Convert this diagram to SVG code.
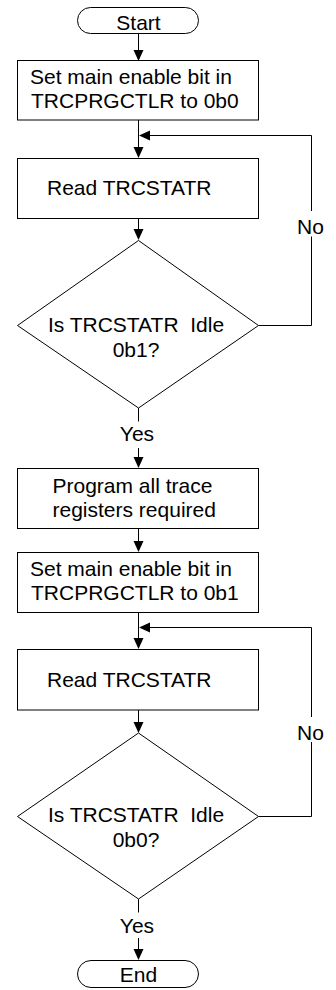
<svg xmlns="http://www.w3.org/2000/svg" width="336" height="990" viewBox="0 0 336 990">
<style>
.s{fill:#fff;stroke:#000;stroke-width:1}
.l{fill:none;stroke:#000;stroke-width:1}
.a{fill:#000;stroke:none}
text{font-family:"Liberation Sans",Arial,sans-serif;font-size:21px;fill:#000;white-space:pre}
.m{text-anchor:middle}
</style>
<rect width="336" height="990" fill="#fff"/>
<g id="connectors">
<line class="l" x1="138.5" y1="33.5" x2="138.5" y2="50"/>
<polygon class="a" points="133.5,50 143.5,50 138.5,61"/>
<line class="l" x1="138.5" y1="120" x2="138.5" y2="147"/>
<polygon class="a" points="133.5,147 143.5,147 138.5,158"/>
<line class="l" x1="138.5" y1="219" x2="138.5" y2="229"/>
<polygon class="a" points="133.5,229 143.5,229 138.5,240"/>
<polyline class="l" points="258.5,325.5 311.5,325.5 311.5,236.5"/>
<polyline class="l" points="311.5,211 311.5,135.5 150,135.5"/>
<polygon class="a" points="139,135.5 150,130.5 150,140.5"/>
<text x="297" y="233.5">No</text>
<line class="l" x1="138.5" y1="408" x2="138.5" y2="421.5"/>
<text class="m" x="137" y="440.5">Yes</text>
<line class="l" x1="138.5" y1="448" x2="138.5" y2="457"/>
<polygon class="a" points="133.5,457 143.5,457 138.5,468"/>
<line class="l" x1="138.5" y1="529" x2="138.5" y2="541"/>
<polygon class="a" points="133.5,541 143.5,541 138.5,552"/>
<line class="l" x1="138.5" y1="613" x2="138.5" y2="638"/>
<polygon class="a" points="133.5,638 143.5,638 138.5,649"/>
<line class="l" x1="138.5" y1="710" x2="138.5" y2="722"/>
<polygon class="a" points="133.5,722 143.5,722 138.5,733"/>
<polyline class="l" points="258.5,816.5 311.5,816.5 311.5,742"/>
<polyline class="l" points="311.5,717 311.5,627.5 150,627.5"/>
<polygon class="a" points="139,627.5 150,622.5 150,632.5"/>
<text x="297" y="739.5">No</text>
<line class="l" x1="138.5" y1="899" x2="138.5" y2="912.5"/>
<text class="m" x="137" y="933">Yes</text>
<line class="l" x1="138.5" y1="938" x2="138.5" y2="949"/>
<polygon class="a" points="133.5,949 143.5,949 138.5,960"/>
</g>
<g id="start">
<rect class="s" x="77.5" y="7.5" width="121" height="26" rx="13"/>
<text class="m" x="138.5" y="29.5">Start</text>
</g>
<g id="set0">
<rect class="s" x="17.5" y="60.5" width="241" height="59.5"/>
<text x="30" y="83.5">Set main enable bit in</text>
<text x="31" y="107.5">TRCPRGCTLR to 0b0</text>
</g>
<g id="read1">
<rect class="s" x="17.5" y="158.5" width="241" height="60"/>
<text x="47" y="195">Read TRCSTATR</text>
</g>
<g id="dec1">
<polygon class="s" points="138.5,240.5 258.5,325.5 138.5,408 17.5,325.5"/>
<text class="m" x="136" y="331.5">Is TRCSTATR  Idle</text>
<text class="m" x="136" y="356.5">0b1?</text>
</g>
<g id="program">
<rect class="s" x="17.5" y="468.5" width="241" height="60"/>
<text x="52.5" y="492.5">Program all trace</text>
<text x="52.5" y="516.5">registers required</text>
</g>
<g id="set1">
<rect class="s" x="17.5" y="552.5" width="241" height="60"/>
<text x="30" y="575.5">Set main enable bit in</text>
<text x="31" y="600">TRCPRGCTLR to 0b1</text>
</g>
<g id="read2">
<rect class="s" x="17.5" y="649.5" width="241" height="60.5"/>
<text x="47" y="686.5">Read TRCSTATR</text>
</g>
<g id="dec2">
<polygon class="s" points="138.5,733 258.5,816.5 138.5,899 17.5,816.5"/>
<text class="m" x="136" y="821.5">Is TRCSTATR  Idle</text>
<text class="m" x="136" y="846.5">0b0?</text>
</g>
<g id="end">
<rect class="s" x="77.5" y="960.5" width="121" height="27" rx="13.5"/>
<text class="m" x="138.5" y="981.5">End</text>
</g>
</svg>
